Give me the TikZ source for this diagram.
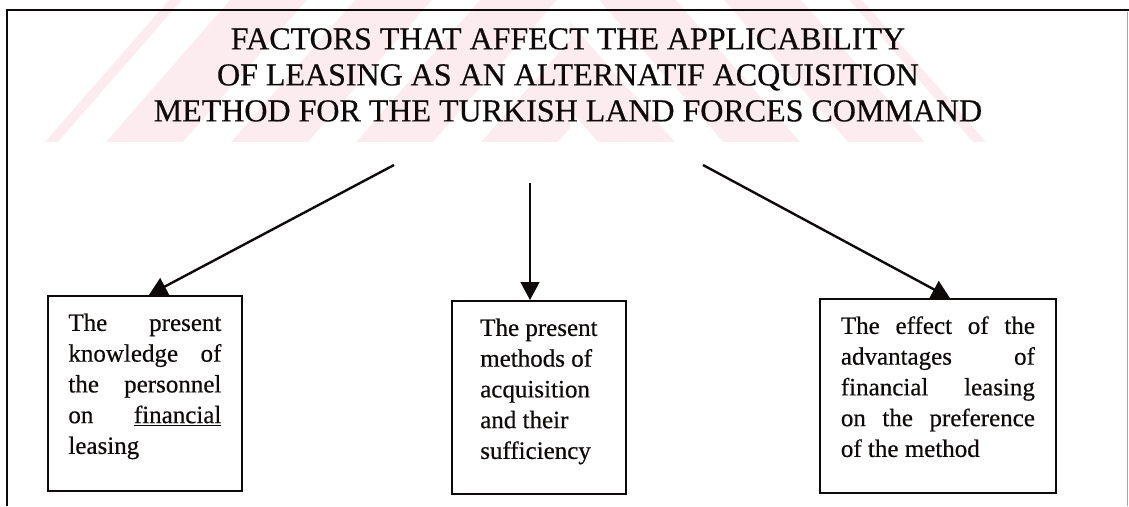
\documentclass[tikz,border=0pt]{standalone}
\usepackage{fontspec}
\setmainfont{Liberation Serif}[FakeBold=0.5]
\usetikzlibrary{arrows.meta}
\definecolor{wmpink}{RGB}{253,236,239}
\definecolor{ink}{RGB}{15,10,10}
\begin{document}
\begin{tikzpicture}[x=1pt,y=-1pt,
  box/.style={draw=ink, line width=1.8pt, inner sep=0pt, anchor=north west, text=ink},
  arrthick/.style={draw=ink, fill=ink, -{Triangle[length=18pt,width=19pt]}, line width=2.4pt},
  arrthin/.style={draw=ink, fill=ink, -{Triangle[length=18pt,width=19pt]}, line width=1.4pt},
  wmband/.style={fill=white}]
\useasboundingbox (0,0) rectangle (1129,506);
% watermark
\begin{scope}
  \clip (45,142) -- (169,0) -- (862,0) -- (986,142) -- cycle;
  \fill[wmpink] (0,0) rectangle (1129,142);
  \begin{scope}
    \clip (0,0) rectangle (570,142);
    \foreach \k in {0,...,4} {
      \pgfmathsetmacro\xa{58+125*\k}
      \fill[wmband] (\xa,142) -- (\xa+48,142) -- (\xa+172,0) -- (\xa+124,0) -- cycle;
    }
  \end{scope}
  \begin{scope}
    \clip (570,0) rectangle (1129,142);
    \foreach \k in {0,...,4} {
      \pgfmathsetmacro\xb{925-125*\k}
      \fill[wmband] (\xb,142) -- (\xb+48,142) -- (\xb-76,0) -- (\xb-124,0) -- cycle;
    }
  \end{scope}
\end{scope}
% frame
\draw[ink, line width=2.2pt] (7,10) -- (1129,10);
\draw[ink, line width=1.5pt] (7,9) -- (7,506);
\draw[black!35, line width=1pt] (1127,12) -- (1127,506);
% title
\node[anchor=north, inner sep=0pt, align=center, text=ink,
      font=\fontsize{32}{36}\selectfont] (title) at (568,28)
  {FACTORS THAT AFFECT THE APPLICABILITY\\OF LEASING AS AN ALTERNATIF ACQUISITION\\METHOD FOR THE TURKISH LAND FORCES COMMAND};
% boxes
\node[box, minimum width=194pt, minimum height=195pt] (b1) at (47,295)
  {\parbox[c][195pt][t]{153pt}{\fontsize{25}{30.75}\selectfont
   \hbox to\hsize{\rule{0pt}{35pt}The present}
   \hbox to\hsize{knowledge of}
   \hbox to\hsize{the personnel}
   \hbox to\hsize{on \underline{financial}}
   \hbox{leasing}}};
\node[box, minimum width=174pt, minimum height=193pt] (b2) at (451,300)
  {\parbox[c][193pt][t]{132pt}{\fontsize{25}{30.75}\selectfont
   \hbox{\rule{0pt}{35pt}The present}
   \hbox{methods of}
   \hbox{acquisition}
   \hbox{and their}
   \hbox{sufficiency}}};
\node[box, minimum width=236pt, minimum height=194pt] (b3) at (819,298)
  {\parbox[c][194pt][t]{194pt}{\fontsize{25}{30.75}\selectfont
   \hbox to\hsize{\rule{0pt}{35pt}The effect of the}
   \hbox to\hsize{advantages of}
   \hbox to\hsize{financial leasing}
   \hbox to\hsize{on the preference}
   \hbox{of the method}}};
% arrows
\coordinate (s1) at (394,165);
\coordinate (s2) at (530,183);
\coordinate (s3) at (703,165);
\draw[arrthick] (s1) -- ([xshift=4pt]b1.north);
\draw[arrthin] (s2) -- (s2 |- b2.north);
\draw[arrthick] (s3) -- ([xshift=12pt]b3.north);
\end{tikzpicture}
\end{document}
